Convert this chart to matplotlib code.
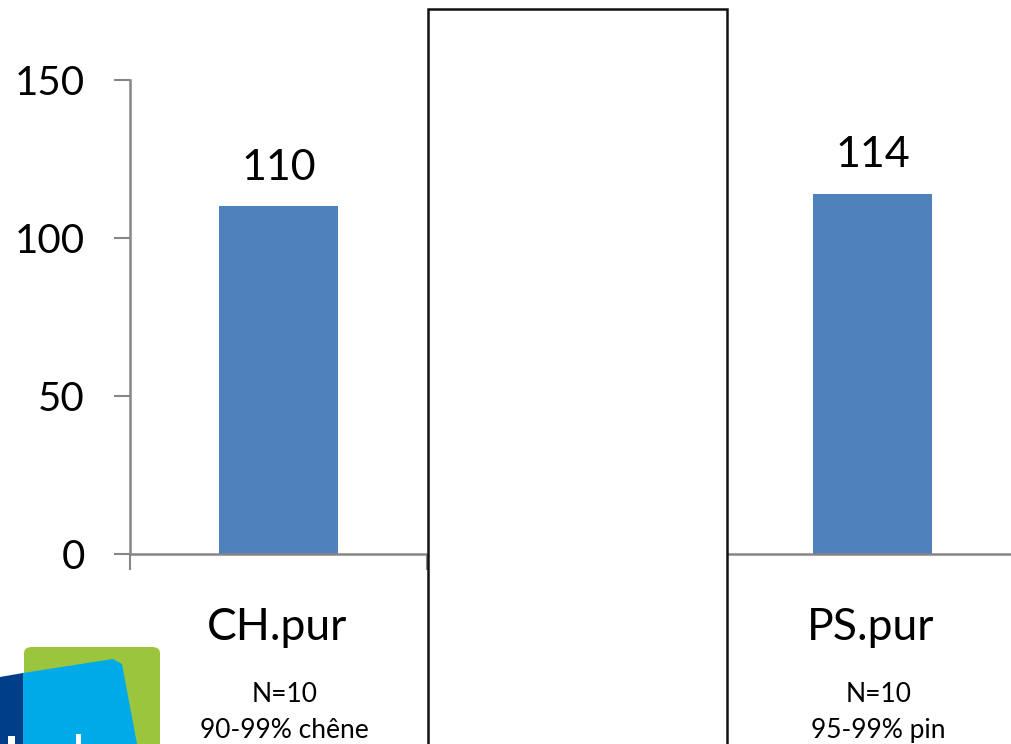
import matplotlib
matplotlib.use("Agg")
import matplotlib.pyplot as plt
from matplotlib.patches import Rectangle, Polygon, FancyBboxPatch

plt.rcParams['font.family'] = ['Lato', 'DejaVu Sans']

categories = ["CH.pur", "", "PS.pur"]
values = [110, None, 114]
n_labels = ["N=10", "", "N=10"]
mix_labels = ["90-99% chêne", "", "95-99% pin"]
yticks = [0, 50, 100, 150]

bar_color = '#4F81BD'
axis_color = '#868686'

W, H = 1012, 744
fig = plt.figure(figsize=(W / 100, H / 100), dpi=100)
ax = fig.add_axes([130 / W, 190 / H, 891 / W, 474 / H])

pos = [i for i, v in enumerate(values) if v is not None]
vals = [v for v in values if v is not None]
ax.bar(pos, vals, width=0.4, color=bar_color, zorder=2)
for p, v in zip(pos, vals):
    ax.text(p, v + 8.4, str(v), ha='center', va='baseline', fontsize=31)

ax.set_xlim(-0.5, 2.5)
ax.set_ylim(0, 150)
ax.set_yticks(yticks)
ax.set_yticklabels([str(t) for t in yticks], fontsize=29)
ax.set_xticks([-0.5, 0.5, 1.5, 2.5])
ax.set_xticklabels([])
ax.tick_params(axis='both', length=11.5, width=1.5, color=axis_color, direction='out')
ax.tick_params(axis='y', pad=21)
for s in ['top', 'right']:
    ax.spines[s].set_visible(False)
for s in ['left', 'bottom']:
    ax.spines[s].set_color(axis_color)
    ax.spines[s].set_linewidth(1.8)

for i, (c, n, m) in enumerate(zip(categories, n_labels, mix_labels)):
    if c:
        ax.text(i - 0.005, -27.2, c, ha='center', va='baseline', fontsize=32)
    if n:
        ax.text(i + 0.02, -46.8, n, ha='center', va='baseline', fontsize=19)
        ax.text(i + 0.02, -58.2, m, ha='center', va='baseline', fontsize=19)

# white box covering the middle category
fig.patches.append(Rectangle((428 / W, -0.01), 299 / W, (734 + 8) / H,
                             transform=fig.transFigure, facecolor='white',
                             edgecolor='#111111', linewidth=1.8, zorder=5))

# partial logo in the lower left corner
fig.patches.append(FancyBboxPatch((24 / W, -0.05), 136 / W, 97 / H + 0.05,
                                  boxstyle="round,pad=0,rounding_size=0.008",
                                  transform=fig.transFigure, facecolor='#9BC53D',
                                  edgecolor='none', zorder=6))
blue = [(23, 673), (113, 659), (122, 664), (137, 744), (23, 744)]
fig.patches.append(Polygon([(x / W, 1 - y / H) for x, y in blue], closed=True,
                           transform=fig.transFigure, facecolor='#00A9E8',
                           edgecolor='none', zorder=7))
dark = [(0, 677), (23, 673), (23, 744), (0, 744)]
fig.patches.append(Polygon([(x / W, 1 - y / H) for x, y in dark], closed=True,
                           transform=fig.transFigure, facecolor='#003F87',
                           edgecolor='none', zorder=7))
fig.patches.append(Rectangle((8 / W, 0), 7 / W, 8 / H, transform=fig.transFigure,
                             facecolor='white', edgecolor='none', zorder=8))
fig.patches.append(Rectangle((76 / W, 0), 5 / W, 10 / H, transform=fig.transFigure,
                             facecolor='white', edgecolor='none', zorder=8))

fig.savefig('out.png', dpi=100)
